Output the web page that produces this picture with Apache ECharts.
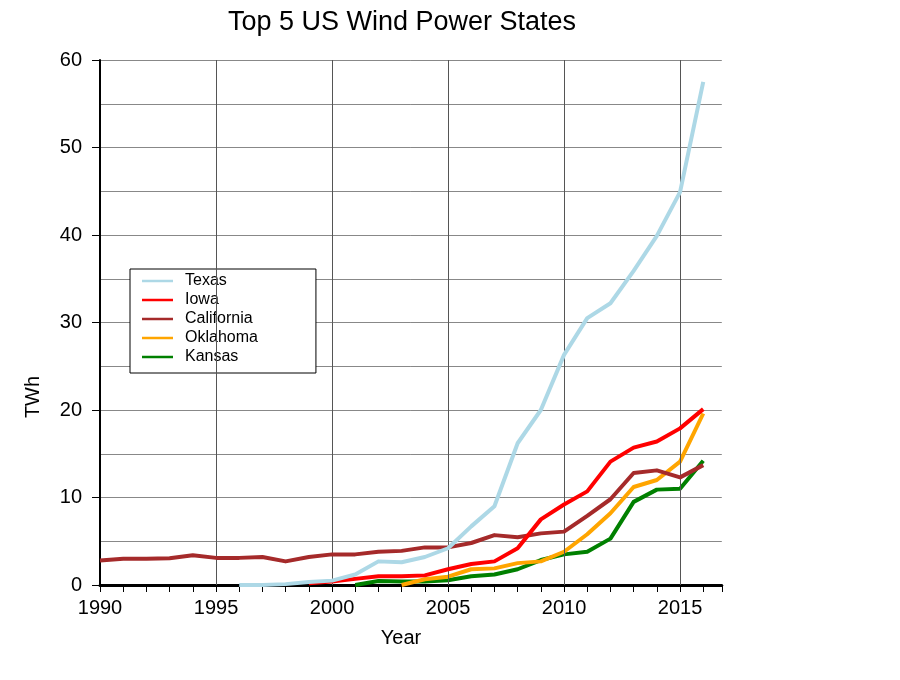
<!DOCTYPE html>
<html>
<head>
<meta charset="utf-8">
<script src="https://cdn.jsdelivr.net/npm/echarts@6/dist/echarts.min.js"></script>
<style>html,body{margin:0;padding:0;background:#fff}#c{width:900px;height:680px}</style>
</head>
<body>
<div id="c"></div>
<script>
const years = [1990,1991,1992,1993,1994,1995,1996,1997,1998,1999,2000,2001,2002,2003,2004,2005,2006,2007,2008,2009,2010,2011,2012,2013,2014,2015,2016];
const texas      = [null,null,null,null,null,null,0.0,0.0,0.1,0.35,0.5,1.2,2.7,2.6,3.2,4.2,6.7,9.0,16.2,20.0,26.3,30.5,32.2,35.9,39.9,44.9,57.5];
const iowa       = [null,null,null,null,null,null,null,null,null,0.2,0.4,0.7,1.0,1.0,1.1,1.8,2.4,2.7,4.2,7.5,9.2,10.7,14.1,15.7,16.4,17.9,20.1];
const california = [2.8,3.0,3.0,3.05,3.4,3.1,3.1,3.2,2.7,3.2,3.5,3.5,3.8,3.9,4.3,4.3,4.8,5.7,5.45,5.9,6.1,7.9,9.8,12.8,13.1,12.3,13.7];
const oklahoma   = [null,null,null,null,null,null,null,null,null,null,null,null,null,0.0,0.65,0.95,1.8,1.9,2.5,2.7,3.8,5.8,8.2,11.2,12.0,14.1,19.6];
const kansas     = [null,null,null,null,null,null,null,null,null,null,null,0.0,0.45,0.4,0.4,0.55,1.0,1.2,1.8,2.85,3.5,3.8,5.3,9.5,10.9,11.0,14.2];
const seriesNames = ['Texas','Iowa','California','Oklahoma','Kansas'];
const gridYears = [1995,2000,2005,2010,2015];
const yTicks = [0,10,20,30,40,50,60];

const colors = {Texas:'#add8e6', Iowa:'#ff0000', California:'#a52a2a', Oklahoma:'#ffa500', Kansas:'#008000'};
const valuesBy = {Texas:texas, Iowa:iowa, California:california, Oklahoma:oklahoma, Kansas:kansas};
const drawOrder = ['Kansas','Oklahoma','California','Iowa','Texas'];
const FONT = '"Liberation Sans", Arial, sans-serif';

function pairs(vals){ return years.map((y,i)=>[y, vals[i]]).filter(p=>p[1]!==null); }

const series = drawOrder.map((n,i)=>({
  name:n, type:'line', data:pairs(valuesBy[n]), symbol:'none', showSymbol:false,
  lineStyle:{width:4, color:colors[n], join:'round'}, itemStyle:{color:colors[n]},
  z: 3+i, animation:false
}));
series.push({
  type:'line', data:[], z:1, silent:true, animation:false,
  markLine:{ silent:true, symbol:['none','none'], label:{show:false}, animation:false,
    lineStyle:{color:'#555', type:'solid', width:1},
    emphasis:{disabled:true},
    data: gridYears.map(y=>({xAxis:y})) }
});

const chart = echarts.init(document.getElementById('c'), null, {renderer:'canvas'});
chart.setOption({
  backgroundColor:'#ffffff',
  animation:false,
  grid:{left:100, top:60, width:621.8, height:525},
  legend:{
    data:seriesNames.map(n=>({name:n, icon:'rect'})), orient:'vertical', left:130, top:269,
    itemWidth:31, itemHeight:2.5, itemGap:3,
    padding:[4,58,8,12],
    borderColor:'#000', borderWidth:1, backgroundColor:'#fff',
    textStyle:{fontFamily:FONT, fontSize:16, lineHeight:16, color:'#000', padding:[0,0,0,7]},
    selectedMode:false
  },
  xAxis:{
    type:'value', min:1990, max:2016.8, interval:1,
    axisLine:{show:true, onZero:false, lineStyle:{color:'#000', width:3}},
    axisTick:{show:true, length:7, lineStyle:{color:'#000', width:1}},
    axisLabel:{margin:13, fontFamily:FONT, fontSize:20, color:'#000',
      formatter:v=> (Math.abs(v%5)<1e-9 ? String(v) : '')},
    splitLine:{show:false}
  },
  yAxis:{
    type:'value', min:yTicks[0], max:yTicks[yTicks.length-1], interval:10,
    axisLine:{show:true, lineStyle:{color:'#000', width:2}},
    axisTick:{show:true, length:8, lineStyle:{color:'#000', width:1}},
    axisLabel:{margin:18, fontFamily:FONT, fontSize:20, color:'#000'},
    splitLine:{show:true, lineStyle:{color:'#888', width:1}},
    minorTick:{show:false, splitNumber:2},
    minorSplitLine:{show:true, lineStyle:{color:'#888', width:1}}
  },
  graphic:[
    {type:'text', x:402, y:23, style:{text:'Top 5 US Wind Power States', font:'27px '+FONT, fill:'#000', align:'center', verticalAlign:'middle'}},
    {type:'text', x:401, y:638, style:{text:'Year', font:'20px '+FONT, fill:'#000', align:'center', verticalAlign:'middle'}},
    {type:'text', x:33, y:397, rotation:Math.PI/2, style:{text:'TWh', font:'20px '+FONT, fill:'#000', align:'center', verticalAlign:'middle'}}
  ],
  series:series
});
</script>
</body>
</html>
